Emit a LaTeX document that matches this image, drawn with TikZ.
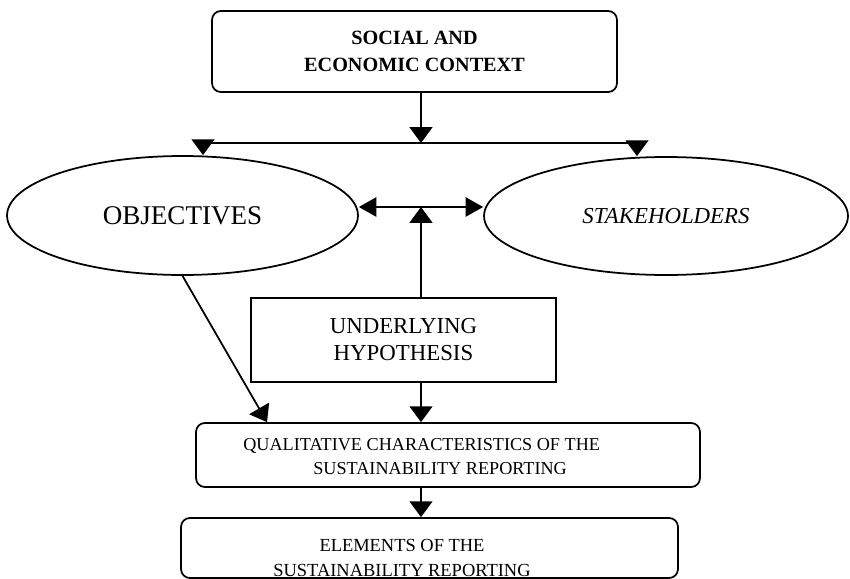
\documentclass[tikz,border=0pt]{standalone}
\usepackage{fontspec}
\setmainfont{Liberation Serif}
\usetikzlibrary{arrows.meta,shapes.geometric}

\tikzset{
  ctxbox/.style={draw,line width=1pt,rounded corners=5pt,inner sep=0pt},
  hypbox/.style={draw,line width=1pt,inner sep=0pt,align=center},
  goal/.style={draw,ellipse,line width=1pt,inner sep=0pt},
  flow/.style={line width=1pt,-{Triangle[width=13pt,length=9pt]}},
  twoway/.style={line width=1pt,{Triangle[width=11pt,length=10pt]}-{Triangle[width=11pt,length=10pt]}},
}

\begin{document}
\begin{tikzpicture}[x=0.02cm,y=-0.02cm]
  \useasboundingbox (0,0) rectangle (850,579);

  % boxes and ellipses
  \node[ctxbox,minimum width=8.1cm,minimum height=1.62cm,align=center,
        font=\fontsize{11.5}{15.4}\selectfont\bfseries] (ctx) at (414.5,51.5)
        {SOCIAL AND\\ECONOMIC CONTEXT};
  \node[goal,minimum width=7.02cm,minimum height=2.38cm,
        font=\fontsize{15.4}{18}\selectfont] (obj) at (182.5,215.5) {OBJECTIVES};
  \node[goal,minimum width=7.28cm,minimum height=2.36cm,
        font=\fontsize{13}{15}\selectfont\itshape] (stk) at (666,216) {STAKEHOLDERS};
  \node[hypbox,minimum width=6.1cm,minimum height=1.68cm,
        font=\fontsize{13}{15.4}\selectfont] (hyp) at (403.5,340)
        {UNDERLYING\\HYPOTHESIS};
  \node[ctxbox,minimum width=10.08cm,minimum height=1.28cm] (qual) at (448,455) {};
  \node[ctxbox,minimum width=9.94cm,minimum height=1.2cm] (elem) at (429.5,548) {};

  % texts of the lower boxes
  \node[anchor=west,align=left,inner sep=0pt,font=\fontsize{10.35}{13.7}\selectfont]
        (qualtxt) at (243,457)
        {QUALITATIVE CHARACTERISTICS OF THE\\\hspace*{1.4cm}SUSTAINABILITY REPORTING};
  \node[align=center,inner sep=0pt,font=\fontsize{10.5}{14}\selectfont]
        (elemtxt) at (402,558) {ELEMENTS OF THE\\SUSTAINABILITY REPORTING};

  % helper points
  \coordinate (barL) at (203,143);
  \coordinate (barR) at (637,143);
  \coordinate (spine) at (421,207);
  \coordinate (diag) at (267,0);

  % connectors
  \draw[line width=1pt] (barL) -- (barR);
  \draw[flow] (ctx.south -| spine) -- (barL -| spine);
  \draw[flow] (barL) -- (obj.north -| barL);
  \draw[flow] (barR) -- (stk.north -| barR);
  \draw[twoway] (obj.east |- spine) -- (stk.west |- spine);
  \draw[flow] (hyp.north -| spine) -- (spine);
  \draw[flow] (hyp.south -| spine) -- (qual.north -| spine);
  \draw[flow] (obj.south) -- (qual.north -| diag);
  \draw[flow] (qual.south -| spine) -- (elem.north -| spine);
\end{tikzpicture}
\end{document}
